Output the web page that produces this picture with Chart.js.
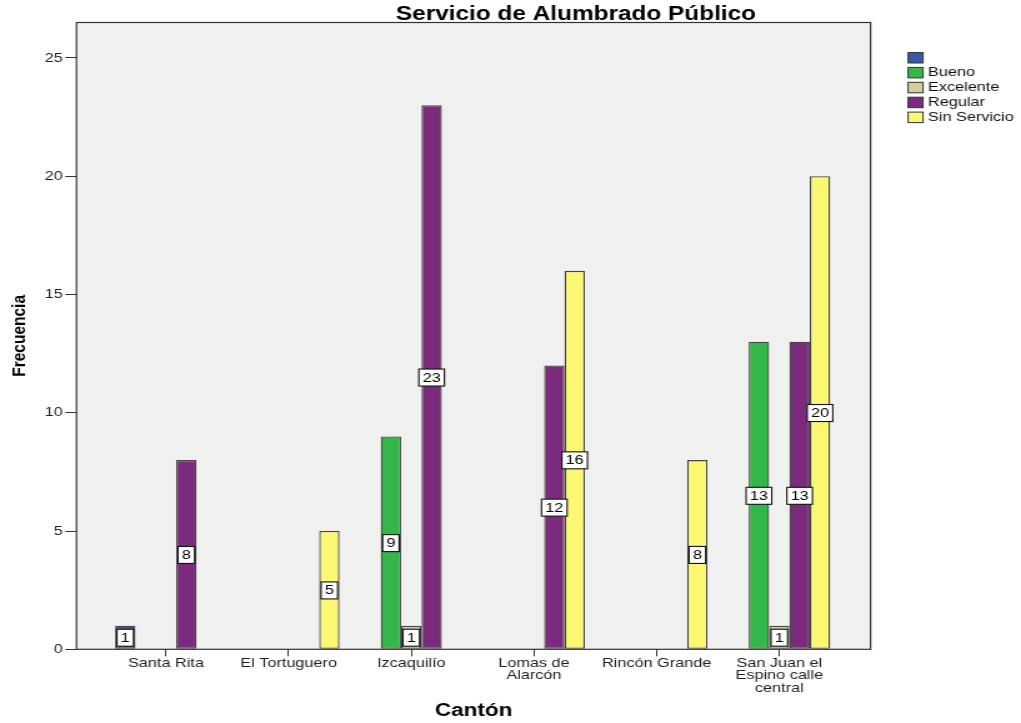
<!DOCTYPE html>
<html><head><meta charset="utf-8">
<script src="https://cdn.jsdelivr.net/npm/chart.js@4.4.1/dist/chart.umd.min.js"></script>
<style>html,body{margin:0;padding:0;background:#fff;overflow:hidden}
#c{display:block}</style></head>
<body><canvas id="c" width="817" height="723" style="width:1021px;height:723px"></canvas>
<script>
// ---- data ----
const chartTitle = 'Servicio de Alumbrado Público';
const xTitle = 'Cantón';
const yTitle = 'Frecuencia';
const categories = ['Santa Rita', 'El Tortuguero', 'Izcaquilío', 'Lomas de Alarcón', 'Rincón Grande', 'San Juan el Espino calle central'];
const tickLabels = [['Santa Rita'], ['El Tortuguero'], ['Izcaquilío'], ['Lomas de', 'Alarcón'], ['Rincón Grande'], ['San Juan el', 'Espino calle', 'central']];
const seriesNames = ['', 'Bueno', 'Excelente', 'Regular', 'Sin Servicio'];
const blankValues = [1, null, null, null, null, null];
const buenoValues = [null, null, 9, null, null, 13];
const excelenteValues = [null, null, 1, null, null, 1];
const regularValues = [8, null, 23, 12, null, 13];
const sinServicioValues = [null, 5, null, 16, 8, 20];
const yTicks = [0, 5, 10, 15, 20, 25];
const yMax = 26.5;

// ---- styles ----
const seriesColors = ['#3d56a9', '#33b64a', '#d3cd98', '#7b2a7c', '#fbf773'];
const FONT = "'Liberation Sans', Arial, sans-serif";
Chart.defaults.font.family = FONT;

const seriesValues = [blankValues, buenoValues, excelenteValues, regularValues, sinServicioValues];
const datasets = seriesValues.map((vals, s) => ({
  label: seriesNames[s],
  data: vals.map((v, i) => ({x: i, y: v})),
  backgroundColor: seriesColors[s],
  borderColor: '#454545',
  borderWidth: 1.3,
  borderSkipped: false,
  categoryPercentage: 0.83,
  barPercentage: 1.0
}));

const decoPlugin = {
  id: 'deco',
  beforeDraw(chart) {
    const {ctx, chartArea: a} = chart;
    ctx.save();
    ctx.fillStyle = '#f0f0f0';
    ctx.fillRect(a.left, a.top, a.right - a.left, a.bottom - a.top);
    ctx.restore();
  },
  afterDatasetsDraw(chart) {
    const {ctx, chartArea: a} = chart;
    ctx.save();
    ctx.strokeStyle = '#333';
    ctx.lineWidth = 1.2;
    ctx.strokeRect(a.left, a.top, a.right - a.left, a.bottom - a.top);
    // value labels
    ctx.font = '13px ' + FONT;
    ctx.textAlign = 'center';
    ctx.textBaseline = 'middle';
    chart.data.datasets.forEach((ds, di) => {
      const meta = chart.getDatasetMeta(di);
      meta.data.forEach((bar, j) => {
        const v = ds.data[j].y;
        if (v === null || v === undefined) return;
        const txt = String(v);
        const cx = bar.x, cy = (bar.y + bar.base) / 2;
        const w = ctx.measureText(txt).width + 6, h = 17;
        ctx.fillStyle = '#fff';
        ctx.fillRect(cx - w / 2, cy - h / 2 + 0.5, w, h);
        ctx.strokeStyle = '#111';
        ctx.lineWidth = 1.1;
        ctx.strokeRect(cx - w / 2, cy - h / 2 + 0.5, w, h);
        ctx.fillStyle = '#000';
        ctx.fillText(txt, cx, cy + 1);
      });
    });
    ctx.restore();
  },
  afterDraw(chart) {
    const {ctx} = chart;
    ctx.save();
    // title
    ctx.font = 'bold 19.5px ' + FONT;
    ctx.fillStyle = '#000';
    ctx.textAlign = 'center';
    ctx.textBaseline = 'middle';
    ctx.fillText(chartTitle, 460.9, 15);
    // legend
    ctx.font = '13px ' + FONT;
    ctx.textAlign = 'left';
    chart.data.datasets.forEach((ds, i) => {
      const top = 52.5 + i * 14.9;
      ctx.fillStyle = ds.backgroundColor;
      ctx.fillRect(726.6, top, 12, 10.5);
      ctx.strokeStyle = '#333';
      ctx.lineWidth = 1;
      ctx.strokeRect(726.6, top, 12, 10.5);
      ctx.fillStyle = '#111';
      ctx.fillText(ds.label, 742.6, top + 5.5);
    });
    ctx.restore();
  }
};

new Chart(document.getElementById('c'), {
  type: 'bar',
  data: {datasets},
  plugins: [decoPlugin],
  options: {
    responsive: false,
    devicePixelRatio: 1,
    animation: false,
    layout: {padding: {left: 0, top: 22.5, right: 120.4, bottom: 0}},
    plugins: {legend: {display: false}, title: {display: false}, tooltip: {enabled: false}},
    scales: {
      x: {
        type: 'linear',
        min: -0.7295,
        max: 5.744,
        bounds: 'data',
        offset: false,
        afterBuildTicks: (s) => { s.ticks = categories.map((_, i) => ({value: i})); },
        afterFit: (s) => { s.height = 73.7; },
        grid: {display: true, offset: false, drawOnChartArea: false, drawTicks: true, tickLength: 7, color: '#333', lineWidth: 1},
        border: {display: false},
        ticks: {
          autoSkip: false, maxRotation: 0, minRotation: 0, padding: 1,
          color: '#222',
          font: {size: 13, lineHeight: 0.95},
          callback: (v) => (Number.isInteger(v) && tickLabels[v]) ? tickLabels[v] : ''
        },
        title: {display: true, text: xTitle, color: '#000', font: {size: 18, weight: 'bold'}, padding: {top: 0, bottom: 1.2}}
      },
      y: {
        min: 0,
        max: yMax,
        afterBuildTicks: (s) => { s.ticks = yTicks.map(v => ({value: v})); },
        afterFit: (s) => { s.width = 61.2; },
        grid: {display: true, drawOnChartArea: false, drawTicks: true, tickLength: 9, color: '#333', lineWidth: 1},
        border: {display: false},
        ticks: {padding: 2, color: '#222', font: {size: 13}},
        title: {display: true, text: yTitle, color: '#000', font: {size: 15.5, weight: 'bold'}, padding: {top: 6.7, bottom: 0}}
      }
    }
  }
});
</script>
</body></html>
